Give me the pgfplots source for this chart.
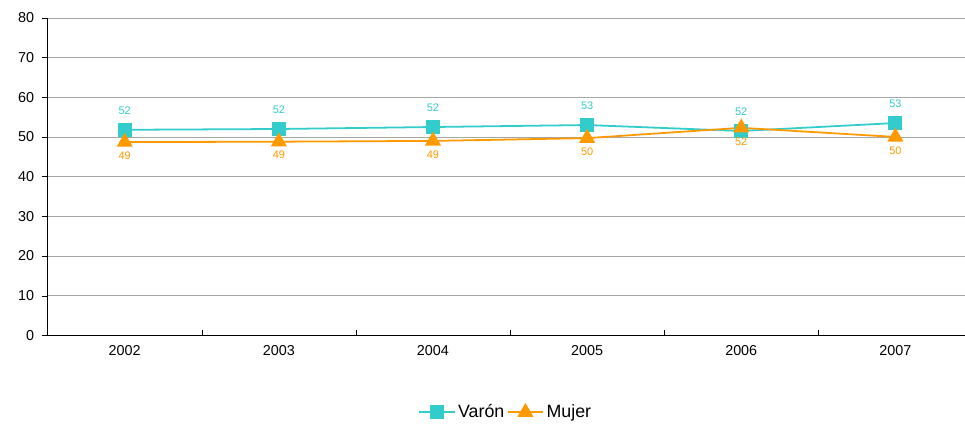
\documentclass[border=0pt]{standalone}
\usepackage{pgfplots}
\pgfplotsset{compat=1.18}
\usepackage{fontspec}
\setmainfont{Liberation Sans}
\definecolor{colV}{RGB}{51,204,204}
\definecolor{colM}{RGB}{255,153,0}
\begin{document}
\begin{tikzpicture}
\begin{axis}[scale only axis, width=670pt, height=232pt,
 xmin=-0.5, xmax=5.45, ymin=0, ymax=80, ytick={0,10,...,80},
 xtick={0,...,5}, xticklabels={2002,2003,2004,2005,2006,2007},
 major x tick style={draw=none},
 minor xtick={0.5,1.5,2.5,3.5,4.5}, minor tick length=4pt,
 xtick pos=bottom, ytick pos=left, ytick align=outside, tick style={black},
 ymajorgrids, grid style={gray!70}, axis x line*=bottom, axis y line*=left,
 tick label style={font=\fontsize{10.5}{11}\selectfont},
 yticklabel style={xshift=-2pt},
 xticklabel style={yshift=-4pt},
 /pgf/number format/assume math mode=true,
 legend style={at={(0.5,-0.2)}, anchor=north, draw=none, legend columns=2, font=\fontsize{13}{14}\selectfont},
 legend image code/.code={\draw[#1, line width=1.3pt] (0cm,0cm) -- (0.9cm,0cm); \draw[#1, mark repeat=2, mark phase=2] plot coordinates {(0cm,0cm) (0.45cm,0cm) (0.9cm,0cm)};},
 legend cell align=left,
 nodes near coords, point meta=explicit symbolic,
]
\addplot[colV, line width=1.3pt, mark=square*, mark size=4.5pt, every node near coord/.style={colV, font=\fontsize{8}{9}\selectfont, yshift=7pt}]
 table[meta=l]{x y l
0 51.8 52
1 52.0 52
2 52.5 52
3 53.0 53
4 51.5 52
5 53.5 53
};
\addplot[colM, line width=1.3pt, mark=triangle*, mark size=5.5pt, every node near coord/.style={colM, font=\fontsize{8}{9}\selectfont, anchor=north, yshift=-3pt}]
 table[meta=l]{x y l
0 48.7 49
1 48.8 49
2 49.0 49
3 49.7 50
4 52.3 52
5 50.0 50
};
\legend{Varón,Mujer}
\end{axis}
\path (current bounding box.north) ++(0,6pt) coordinate (t);
\path (t) -- (t);
\path (current bounding box.west) ++(-10pt,0) coordinate (w);
\path (w) -- (w);
\end{tikzpicture}
\end{document}
